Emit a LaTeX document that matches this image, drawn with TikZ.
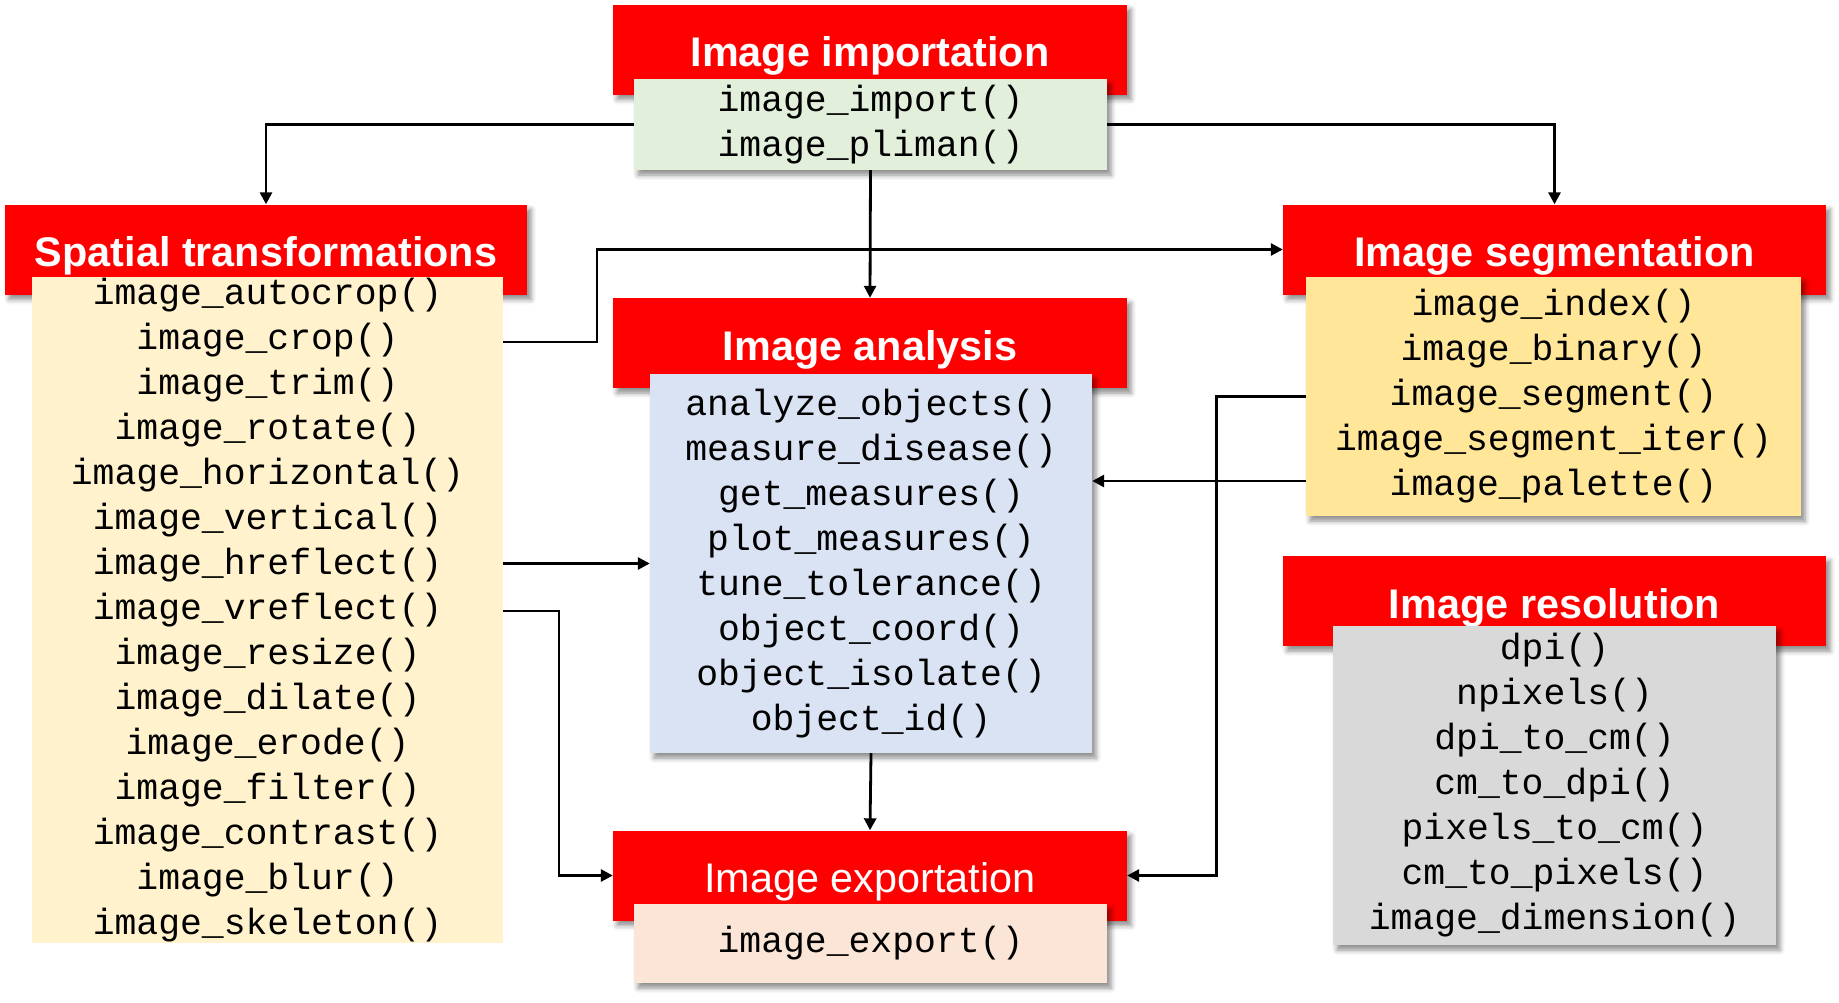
\documentclass[tikz,border=0pt]{standalone}
\usepackage{fontspec}
\setmainfont{Liberation Sans}
\newfontfamily\codefont{Liberation Mono}
\usetikzlibrary{positioning, arrows.meta, shadows.blur}

\definecolor{boxred}{HTML}{FF0000}
\definecolor{impgreen}{HTML}{E2EFDA}
\definecolor{spatyellow}{HTML}{FFF2CC}
\definecolor{anablue}{HTML}{DAE3F3}
\definecolor{exppeach}{HTML}{FBE5D6}
\definecolor{seggold}{HTML}{FFE699}
\definecolor{resgray}{HTML}{D9D9D9}

\begin{document}
\begin{tikzpicture}[
        x = 1pt, y = -1pt,
        boxshadow/.style = {blur shadow={shadow xshift=4pt, shadow yshift=-5pt,
                shadow blur radius=5pt, shadow opacity=45}},
        header/.style    = {fill=boxred, text=white, inner sep=0pt,
                minimum height=90pt, text height=34pt, text depth=0pt,
                font=\fontsize{41.4}{48}\selectfont\bfseries, boxshadow},
        funcs/.style     = {inner sep=0pt, align=center,
                font=\codefont\fontsize{36.4}{45}\selectfont},
        conn/.style      = {draw, line width=2.8pt, -{Triangle[length=12pt, width=12pt]}},
    ]
    \useasboundingbox (0,0) rectangle (1839,1002);

    % headers and function lists
    \node[header, minimum width=514pt] (imp) at (870,49.5) {Image importation};
    \node[funcs, boxshadow, fill=impgreen, minimum width=473pt, minimum height=91pt]
        (impbox) at (870.5,124.5) {image\_import()\\image\_pliman()};

    \node[header, minimum width=522pt] (spat) at (266,249.5) {Spatial transformations};
    \node[funcs, fill=spatyellow, minimum width=471pt, minimum height=666pt]
        (spbox) at (267.5,610) {image\_autocrop()\\image\_crop()\\image\_trim()\\
            image\_rotate()\\image\_horizontal()\\image\_vertical()\\image\_hreflect()\\
            image\_vreflect()\\image\_resize()\\image\_dilate()\\image\_erode()\\
            image\_filter()\\image\_contrast()\\image\_blur()\\image\_skeleton()};

    \node[header, minimum width=514pt] (ana) at (870,343) {Image analysis};
    \node[funcs, boxshadow, fill=anablue, minimum width=442pt, minimum height=379pt]
        (anabox) at (871,563.5) {analyze\_objects()\\measure\_disease()\\get\_measures()\\
            plot\_measures()\\tune\_tolerance()\\object\_coord()\\object\_isolate()\\
            object\_id()};

    \node[header, minimum width=514pt, font=\fontsize{41.4}{48}\selectfont]
        (exp) at (870,875.5) {Image exportation};
    \node[funcs, boxshadow, fill=exppeach, minimum width=473pt, minimum height=79pt]
        (expbox) at (870.5,943.5) {image\_export()};

    \node[header, minimum width=543pt] (seg) at (1554.5,249.5) {Image segmentation};
    \node[funcs, boxshadow, fill=seggold, minimum width=495pt, minimum height=239pt]
        (segbox) at (1553.5,396.5) {image\_index()\\image\_binary()\\image\_segment()\\
            image\_segment\_iter()\\image\_palette()};

    \node[header, minimum width=543pt] (res) at (1554.5,601) {Image resolution};
    \node[funcs, boxshadow, fill=resgray, minimum width=443pt, minimum height=319pt]
        (resbox) at (1554.5,785.5) {dpi()\\npixels()\\dpi\_to\_cm()\\cm\_to\_dpi()\\
            pixels\_to\_cm()\\cm\_to\_pixels()\\image\_dimension()};

    % connectors
    \coordinate (cropout) at (503,342);
    \coordinate (vrefout) at (503,611);
    \coordinate (palout) at (1306,481);

    \draw[conn] (impbox.west) -| (spat.north);
    \draw[conn] (impbox.east) -| (seg.north);
    \draw[conn] (impbox.south) -- (ana.north);
    \draw[conn] (cropout) -- ++(94,0) |- (seg.west);
    \draw[conn] (spbox.east |- anabox.west) -- (anabox.west);
    \draw[conn] (vrefout) -- ++(56,0) |- (exp.west);
    \draw[conn] (segbox.west) -- ++(-89,0) |- (exp.east);
    \draw[conn] (palout) -- (anabox.east |- palout);
    \draw[conn] (anabox.south) -- (exp.north);
\end{tikzpicture}
\end{document}
